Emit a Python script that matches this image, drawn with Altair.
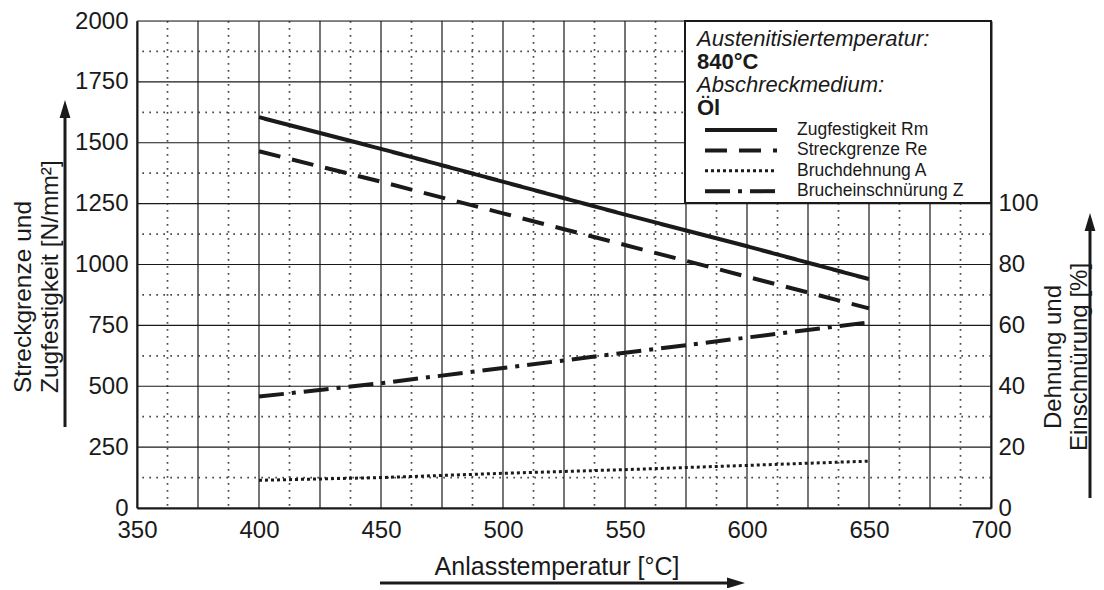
import altair as alt
import pandas as pd

# ---------------- data ----------------
temps = [400, 450, 500, 550, 600, 650]
rm_vals = [1605, 1475, 1340, 1205, 1075, 940]      # Zugfestigkeit Rm [N/mm²]
re_vals = [1465, 1340, 1210, 1080, 950, 820]       # Streckgrenze Re [N/mm²]
a_vals = [9.1, 10.0, 11.4, 12.6, 14.0, 15.4]       # Bruchdehnung A [%]
z_vals = [36.6, 41.0, 46.0, 51.0, 56.0, 61.0]      # Brucheinschnürung Z [%]

series_names = ["Zugfestigkeit Rm", "Streckgrenze Re", "Bruchdehnung A", "Brucheinschnürung Z"]
header_lines = ["Austenitisiertemperatur:", "840°C", "Abschreckmedium:", "Öl"]

x_ticks = [350, 400, 450, 500, 550, 600, 650, 700]
y_left_ticks = [0, 250, 500, 750, 1000, 1250, 1500, 1750, 2000]
y_right_ticks = [0, 20, 40, 60, 80, 100]
x_major_grid = [350 + 25 * i for i in range(15)]
x_minor_grid = [362.5 + 25 * i for i in range(14)]
y_major_grid = [250 * i for i in range(9)]
y_minor_grid = [125 + 250 * i for i in range(8)]

# ---------------- styling ----------------
FONT = "Liberation Sans"
INK = "#1a1a1a"
W, H = 854, 487

dash_styles = {
    "Zugfestigkeit Rm": ([1, 0], 4),
    "Streckgrenze Re": ([22, 12], 4),
    "Bruchdehnung A": ([3, 3], 3),
    "Brucheinschnürung Z": ([25, 8, 4, 8], 4),
}

x_scale = alt.Scale(domain=[350, 700], nice=False, zero=False)
yl_scale = alt.Scale(domain=[0, 2000], nice=False, zero=True)
yr_scale = alt.Scale(domain=[0, 160], nice=False, zero=True)

x_axis = alt.Axis(values=x_ticks, title=None, grid=False, ticks=False,
                  labelPadding=10, labelFlush=False, format="d",
                  domainColor=INK, domainWidth=2, labelFontSize=24,
                  labelFont=FONT, labelColor=INK)
yl_axis = alt.Axis(values=y_left_ticks, title=None, grid=False, ticks=False,
                   labelPadding=9, labelFlush=False, format="d",
                   domainColor=INK, domainWidth=2, labelFontSize=24,
                   labelFont=FONT, labelColor=INK)
yr_axis = alt.Axis(orient="right", values=y_right_ticks, title=None, grid=False,
                   ticks=False, labelPadding=7, labelFlush=False, format="d",
                   domainColor=INK, domainWidth=2, labelFontSize=24,
                   labelFont=FONT, labelColor=INK)

# ---------------- grid ----------------
GRID_DOT = "#4a4a4a"
vgrid_minor = alt.Chart(pd.DataFrame({"T": x_minor_grid})).mark_rule(
    color=GRID_DOT, strokeWidth=1.7, strokeDash=[1.7, 5.3]).encode(
    x=alt.X("T:Q", scale=x_scale, axis=x_axis))
hgrid_minor = alt.Chart(pd.DataFrame({"v": y_minor_grid})).mark_rule(
    color=GRID_DOT, strokeWidth=1.7, strokeDash=[1.7, 5.3]).encode(
    y=alt.Y("v:Q", scale=yl_scale, axis=yl_axis))
vgrid_major = alt.Chart(pd.DataFrame({"T": x_major_grid})).mark_rule(
    color=INK, strokeWidth=1.2).encode(x=alt.X("T:Q", scale=x_scale, axis=x_axis))
hgrid_major = alt.Chart(pd.DataFrame({"v": y_major_grid})).mark_rule(
    color=INK, strokeWidth=1.2).encode(y=alt.Y("v:Q", scale=yl_scale, axis=yl_axis))

# ---------------- lines ----------------
def line_layer(values, name, y_scale, y_axis):
    df = pd.DataFrame({"T": temps, "v": values})
    dash, sw = dash_styles[name]
    return alt.Chart(df).mark_line(color=INK, strokeWidth=sw, strokeDash=dash,
                                   strokeCap="butt").encode(
        x=alt.X("T:Q", scale=x_scale, axis=x_axis),
        y=alt.Y("v:Q", scale=y_scale, axis=y_axis),
    )

left = alt.layer(
    vgrid_minor, hgrid_minor, vgrid_major, hgrid_major,
    line_layer(rm_vals, series_names[0], yl_scale, yl_axis),
    line_layer(re_vals, series_names[1], yl_scale, yl_axis),
)
right = alt.layer(
    line_layer(a_vals, series_names[2], yr_scale, yr_axis),
    line_layer(z_vals, series_names[3], yr_scale, yr_axis),
)

# ---------------- annotations (legend box, titles, arrows) ----------------
one = pd.DataFrame({"k": [0]})

def text(s, x, y, size, angle=0, align="left", baseline="alphabetic", style="normal", weight="normal"):
    kw = dict(text=s, fontSize=size, font=FONT, color=INK, align=align,
              baseline=baseline, fontStyle=style, fontWeight=weight)
    if angle:
        kw["angle"] = angle
    return alt.Chart(one).mark_text(**kw).encode(x=alt.value(x), y=alt.value(y))

annos = []
annos.append(alt.Chart(one).mark_rect(fill="white", stroke=INK, strokeWidth=2).encode(
    x=alt.value(548), x2=alt.value(W), y=alt.value(0), y2=alt.value(182)))

header_y = [24.5, 47.5, 70.5, 94]
header_styles = [("italic", "normal"), ("normal", "bold"), ("italic", "normal"), ("normal", "bold")]
for s, yy, (st, wt) in zip(header_lines, header_y, header_styles):
    annos.append(text(s, 560, yy, 22, style=st, weight=wt))

for i, name in enumerate(series_names):
    yy = 109 + i * 20.4
    dash, sw = dash_styles[name]
    annos.append(alt.Chart(one).mark_rule(color=INK, strokeWidth=sw, strokeDash=dash,
                                          strokeCap="butt").encode(
        x=alt.value(568), x2=alt.value(640), y=alt.value(yy)))
    annos.append(text(name, 660, yy, 17.5, baseline="middle"))

# axis titles
annos.append(text("Anlasstemperatur [°C]", 420, 554, 25, align="center"))
annos.append(text("Streckgrenze und", -113, 372, 24.5, angle=270, align="left", baseline="middle"))
annos.append(text("Zugfestigkeit [N/mm²]", -86, 372, 24.5, angle=270, align="left", baseline="middle"))
annos.append(text("Dehnung und", 917, 336, 24, angle=270, align="center", baseline="middle"))
annos.append(text("Einschnürung [%]", 943, 336, 24, angle=270, align="center", baseline="middle"))

# arrows
arrow_up = "M-0.6,1 L0.6,1 L0,-1 Z"
arrow_right = "M-1,-0.6 L-1,0.6 L1,0 Z"

def arrow_v(x, y_bottom, y_tip):
    r = alt.Chart(one).mark_rule(color=INK, strokeWidth=3).encode(
        x=alt.value(x), y=alt.value(y_bottom), y2=alt.value(y_tip + 12))
    p = alt.Chart(one).mark_point(shape=arrow_up, filled=True, color=INK, opacity=1,
                                  size=324).encode(x=alt.value(x), y=alt.value(y_tip + 9))
    return [r, p]

def arrow_h(y, x_start, x_tip):
    r = alt.Chart(one).mark_rule(color=INK, strokeWidth=3).encode(
        y=alt.value(y), x=alt.value(x_start), x2=alt.value(x_tip - 12))
    p = alt.Chart(one).mark_point(shape=arrow_right, filled=True, color=INK, opacity=1,
                                  size=324).encode(x=alt.value(x_tip - 9), y=alt.value(y))
    return [r, p]

annos += arrow_v(-72, 406, 79)
annos += arrow_v(953, 477, 192)
annos += arrow_h(562, 243, 608)

chart = alt.layer(left, right, *annos).resolve_scale(y="independent").properties(
    width=W, height=H,
    padding={"left": 129, "top": 13, "right": 105, "bottom": 80},
    autosize=alt.AutoSizeParams(type="none"),
).configure_view(stroke=INK, strokeWidth=2).configure(background="white")

chart.save("out.html", embed_options={"renderer": "svg", "actions": False})
